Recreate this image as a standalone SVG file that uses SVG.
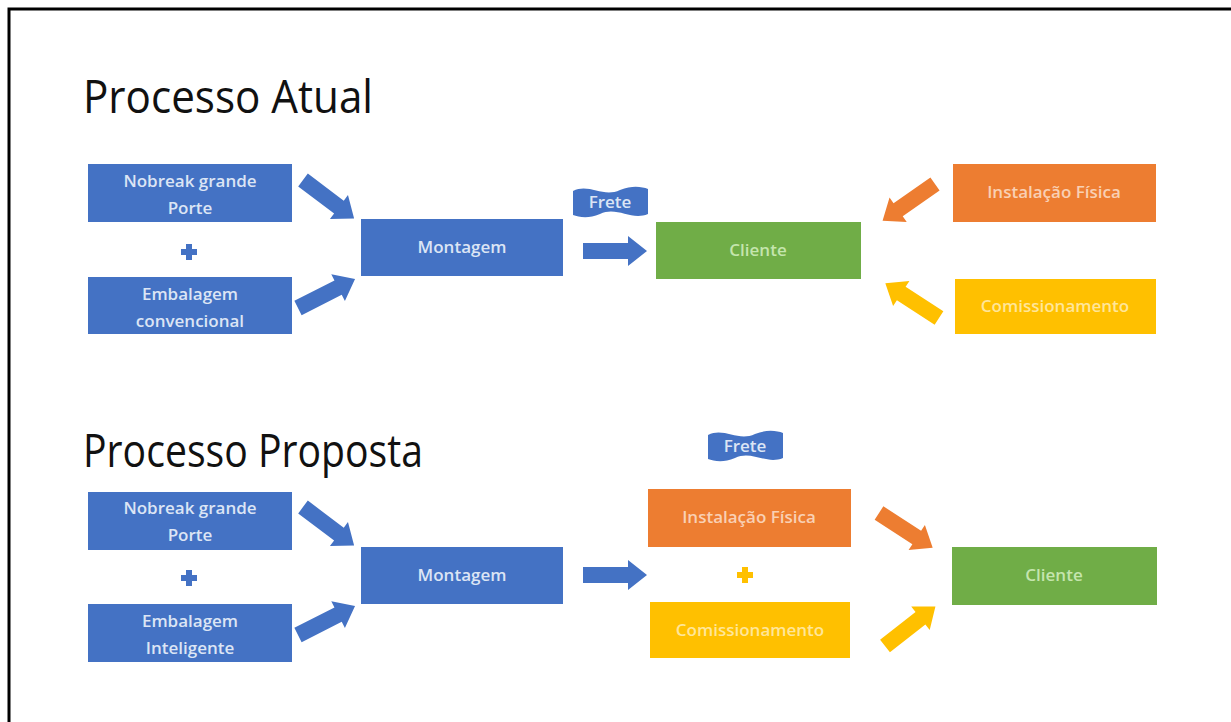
<svg xmlns="http://www.w3.org/2000/svg" xmlns:xlink="http://www.w3.org/1999/xlink" width="1231" height="722" viewBox="0 0 1231 722">
<style>
.title{font-family:"Open Sans","Noto Sans","Liberation Sans",sans-serif;font-size:45px;fill:#111}
.lbl{font-family:"Open Sans","Noto Sans","Liberation Sans",sans-serif;font-size:17px;font-weight:600;text-anchor:middle}
.blue{fill:#4472C4}
.orange{fill:#ED7D31}
.yellow{fill:#FFC000}
.green{fill:#70AD47}
.tb{fill:#DCE5F5}
.tg{fill:#C5E5AE}
.to{fill:#F9D0B4}
.ty{fill:#FFE699}
</style>
<defs>
<path id="arr" d="M0,-8 H45 V-15 L64,0 L45,15 V8 H0 Z"/>
<path id="plus" d="M-3,-8 H3 V-3 H8 V3 H3 V8 H-3 V3 H-8 V-3 H-3 Z"/>
<path id="flag" d="M0,4 C16,-4 30,11 47,3 C60,-2 69,0 75,2 V27 C58,34 44,19 27,27 C15,32 6,30 0,28 Z"/>
</defs>
<rect width="1231" height="722" fill="#fff"/>
<path d="M9,722 V9 H1231" fill="none" stroke="#000" stroke-width="3"/>
<text class="title" x="83" y="113" textLength="290" lengthAdjust="spacingAndGlyphs">Processo Atual</text>
<text class="title" x="83" y="467" textLength="340" lengthAdjust="spacingAndGlyphs">Processo Proposta</text>

<g id="a-nobreak"><rect class="blue" x="88" y="164" width="204" height="58"/>
<text class="lbl tb" x="190" y="187">Nobreak grande</text><text class="lbl tb" x="190" y="214">Porte</text></g>
<g id="a-plus"><use href="#plus" class="blue" x="189" y="252"/></g>
<g id="a-embalagem"><rect class="blue" x="88" y="277" width="204" height="57"/>
<text class="lbl tb" x="190" y="300">Embalagem</text><text class="lbl tb" x="190" y="327">convencional</text></g>
<g id="a-montagem"><rect class="blue" x="361" y="219" width="202" height="57"/>
<text class="lbl tb" x="462" y="253">Montagem</text></g>
<g id="a-frete"><use href="#flag" class="blue" x="573" y="187"/>
<text class="lbl tb" x="610" y="208">Frete</text></g>
<g id="a-cliente"><rect class="green" x="656" y="222" width="205" height="57"/>
<text class="lbl tg" x="758" y="256">Cliente</text></g>
<g id="a-instalacao"><rect class="orange" x="953" y="164" width="203" height="58"/>
<text class="lbl to" x="1054" y="198">Instalação Física</text></g>
<g id="a-comissionamento"><rect class="yellow" x="955" y="279" width="201" height="55"/>
<text class="lbl ty" x="1055" y="312">Comissionamento</text></g>

<g id="p-nobreak"><rect class="blue" x="88" y="492" width="204" height="58"/>
<text class="lbl tb" x="190" y="514">Nobreak grande</text><text class="lbl tb" x="190" y="541">Porte</text></g>
<g id="p-plus"><use href="#plus" class="blue" x="189" y="578"/></g>
<g id="p-embalagem"><rect class="blue" x="88" y="604" width="204" height="58"/>
<text class="lbl tb" x="190" y="627">Embalagem</text><text class="lbl tb" x="190" y="654">Inteligente</text></g>
<g id="p-montagem"><rect class="blue" x="361" y="547" width="202" height="57"/>
<text class="lbl tb" x="462" y="581">Montagem</text></g>
<g id="p-frete"><use href="#flag" class="blue" x="708" y="431"/>
<text class="lbl tb" x="745" y="452">Frete</text></g>
<g id="p-instalacao"><rect class="orange" x="648" y="489" width="203" height="58"/>
<text class="lbl to" x="749" y="523">Instalação Física</text></g>
<g id="p-plus2"><use href="#plus" class="yellow" x="745" y="575"/></g>
<g id="p-comissionamento"><rect class="yellow" x="650" y="602" width="200" height="56"/>
<text class="lbl ty" x="750" y="636">Comissionamento</text></g>
<g id="p-cliente"><rect class="green" x="952" y="547" width="205" height="58"/>
<text class="lbl tg" x="1054" y="581">Cliente</text></g>

<g id="connectors">
<use href="#arr" class="blue" transform="translate(303,180) rotate(37)"/>
<use href="#arr" class="blue" transform="translate(298,308) rotate(-27)"/>
<use href="#arr" class="blue" transform="translate(583,251)"/>
<use href="#arr" class="orange" transform="translate(935,184) rotate(145)"/>
<use href="#arr" class="yellow" transform="translate(939,318) rotate(-147)"/>
<use href="#arr" class="blue" transform="translate(303,507) rotate(37)"/>
<use href="#arr" class="blue" transform="translate(298,635) rotate(-27)"/>
<use href="#arr" class="blue" transform="translate(583,575)"/>
<use href="#arr" class="orange" transform="translate(879,513) rotate(33)"/>
<use href="#arr" class="yellow" transform="translate(885,646) rotate(-38)"/>
</g>
</svg>
